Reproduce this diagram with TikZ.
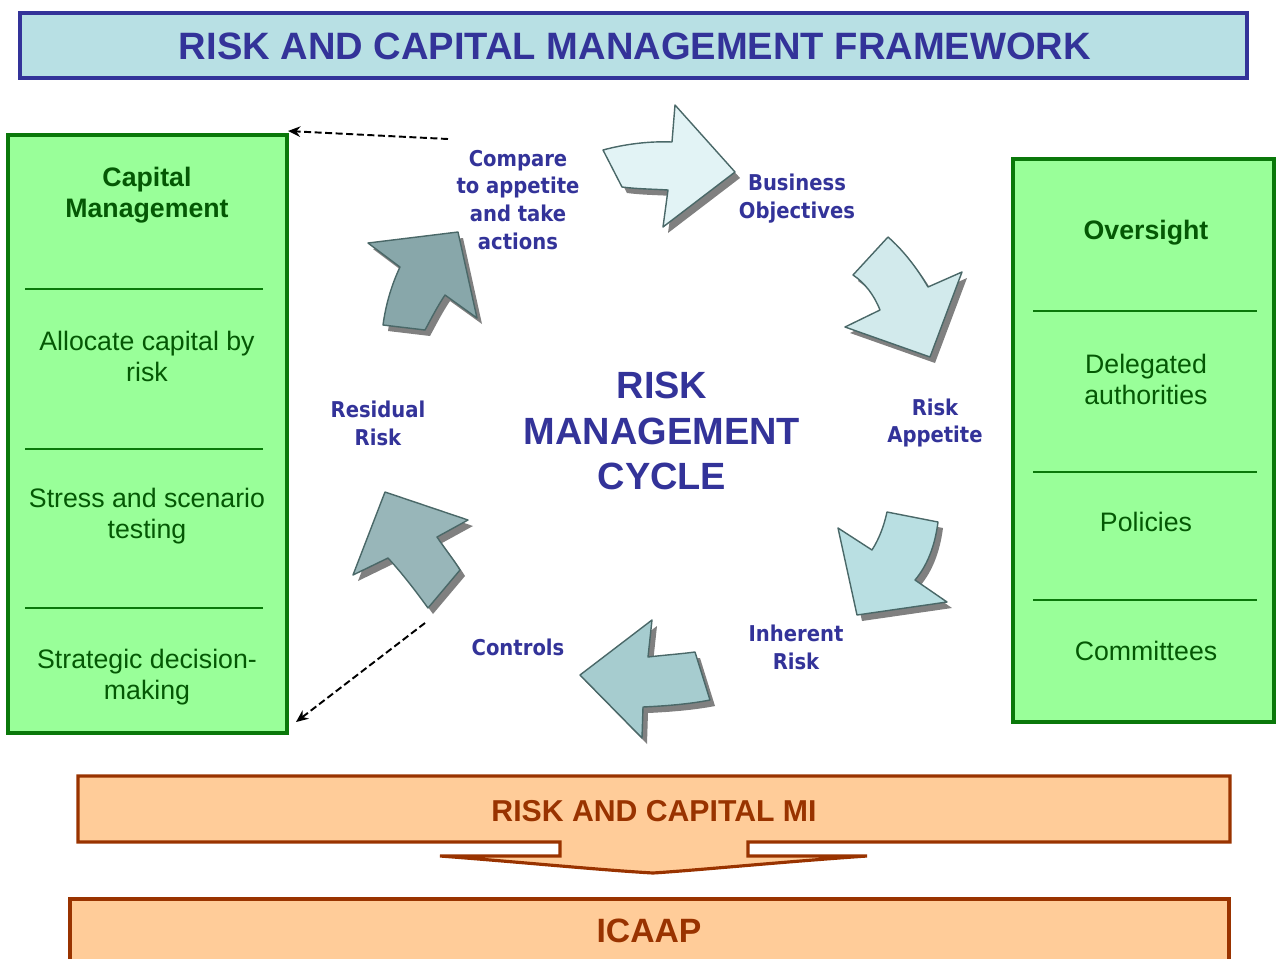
\documentclass[tikz,border=0pt]{standalone}
\usepackage{fontspec}
\setmainfont{Liberation Sans}
\newfontfamily\cyclefont{DejaVu Sans Condensed}
\usetikzlibrary{arrows.meta}

\definecolor{frameblue}{HTML}{333399}
\definecolor{titlefill}{HTML}{B8E0E4}
\definecolor{boxgreen}{HTML}{0A780A}
\definecolor{lightgreen}{HTML}{99FF99}
\definecolor{textgreen}{HTML}{045804}
\definecolor{peach}{HTML}{FFCC99}
\definecolor{rust}{HTML}{993300}
\definecolor{arrowedge}{HTML}{4A6868}
\definecolor{arrowa}{HTML}{E2F3F5}
\definecolor{arrowb}{HTML}{D2EAEC}
\definecolor{arrowc}{HTML}{B9DFE2}
\definecolor{arrowd}{HTML}{A6CCCF}
\definecolor{arrowe}{HTML}{98B6B9}
\definecolor{arrowf}{HTML}{88A7AA}

\tikzset{
  greenbox/.style={draw=boxgreen, line width=1.8pt, fill=lightgreen},
  divider/.style={draw=boxgreen, line width=1.1pt},
  boxhead/.style={text=textgreen, align=center, font=\bfseries\fontsize{15.2}{17.6}\selectfont},
  boxtext/.style={text=textgreen, align=center, font=\fontsize{15.2}{17.6}\selectfont},
  cyclelabel/.style={text=frameblue, align=center, font=\cyclefont\bfseries\fontsize{12.4}{15.9}\selectfont},
  cyclearrow/.style={draw=arrowedge, line width=0.8pt, line join=round},
  arrowshadow/.style={fill=black!50, shift={(5,6)}},
  link/.style={dash pattern=on 4pt off 2pt, line width=1.1pt, -{Stealth[length=7pt,width=6pt]}},
  peachbox/.style={draw=rust, line width=1.8pt, fill=peach, line join=miter},
}

% one block arrow of the cycle, with its shadow
\newcommand\cyclestep[2]{%
  \fill[arrowshadow] #2;
  \filldraw[cyclearrow, fill=#1] #2;
}

\begin{document}
\begin{tikzpicture}[x=0.02cm, y=-0.02cm]
  \useasboundingbox (0,0) rectangle (1276,958);

  % title bar
  \filldraw[draw=frameblue, line width=1.8pt, fill=titlefill] (20,13) rectangle (1247,78);
  \node[text=frameblue, font=\bfseries\fontsize{21.7}{26}\selectfont] (title) at (635,46) {RISK AND CAPITAL MANAGEMENT FRAMEWORK};

  % capital management
  \filldraw[greenbox] (8,135) rectangle (287,733);
  \coordinate (capcorner) at (288,131);
  \coordinate (capfoot) at (296,722);
  \draw[divider] (25,289) -- (263,289);
  \draw[divider] (25,449) -- (263,449);
  \draw[divider] (25,608) -- (263,608);
  \node[boxhead] (capital) at (147,195) {Capital\\Management};
  \node[boxtext] (allocate) at (147,356) {Allocate capital by\\risk};
  \node[boxtext] (stress) at (147,516) {Stress and scenario\\testing};
  \node[boxtext] (strategic) at (147,677) {Strategic decision-\\making};

  % oversight
  \filldraw[greenbox] (1013,159) rectangle (1274,722);
  \draw[divider] (1033,311) -- (1257,311);
  \draw[divider] (1033,472) -- (1257,472);
  \draw[divider] (1033,600) -- (1257,600);
  \node[boxhead] (oversight) at (1146,233) {Oversight};
  \node[boxtext] (delegated) at (1146,379) {Delegated\\authorities};
  \node[boxtext] (policies) at (1146,522) {Policies};
  \node[boxtext] (committees) at (1146,651) {Committees};

  % cycle arrows
  \cyclestep{arrowa}{(603,150) .. controls (625,144) and (650,141) .. (672,142) -- (675,105) -- (735,172) -- (663,227) -- (668,190) .. controls (652,189) and (637,189) .. (622,187) -- cycle}
  \cyclestep{arrowb}{(888,237) -- (853,275) .. controls (865,283) and (874,295) .. (880,310) -- (845,327) -- (930,357) -- (962,272) -- (928,287) .. controls (917,268) and (903,250) .. (888,237) -- cycle}
  \cyclestep{arrowc}{(887,512) -- (938,522) .. controls (935,546) and (927,566) .. (915,580) -- (947,602) -- (857,615) -- (838,528) -- (872,550) .. controls (879,539) and (884,526) .. (887,512) -- cycle}
  \cyclestep{arrowd}{(652,620) -- (648,657) .. controls (665,655) and (680,654) .. (695,652) -- (710,700) .. controls (690,704) and (665,706) .. (643,707) -- (642,738) -- (580,675) -- cycle}
  \cyclestep{arrowe}{(385,492) -- (468,520) -- (437,537) .. controls (445,549) and (454,560) .. (460,570) -- (428,608) .. controls (415,590) and (401,572) .. (388,558) -- (353,575) -- cycle}
  \cyclestep{arrowf}{(368,243) -- (458,232) -- (477,318) -- (445,295) .. controls (437,307) and (431,319) .. (425,330) -- (383,325) .. controls (386,303) and (392,284) .. (400,267) -- cycle}

  % cycle labels
  \node[cyclelabel] (compare) at (518,200) {Compare\\to appetite\\and take\\actions};
  \node[cyclelabel] (business) at (797,199) {Business\\Objectives};
  \node[cyclelabel] (appetite) at (935,423) {Risk\\Appetite};
  \node[cyclelabel] (inherent) at (796,647) {Inherent\\Risk};
  \node[cyclelabel] (controls) at (518,647) {Controls};
  \node[cyclelabel] (residual) at (378,423) {Residual\\Risk};
  \node[text=frameblue, align=center, font=\bfseries\fontsize{21.6}{26}\selectfont] (cycle) at (662,431) {RISK\\MANAGEMENT\\CYCLE};

  \coordinate (cmpstart) at (448,139);
  \coordinate (resstart) at (425,623);
  \draw[link] (cmpstart) -- (capcorner);
  \draw[link] (resstart) -- (capfoot);

  % MI and ICAAP
  \filldraw[peachbox] (78,776) -- (1230,776) -- (1230,842) -- (748,842) -- (748,856) -- (867,856)
    .. controls (780,862) and (700,870) .. (653,873) .. controls (600,870) and (520,862) .. (440,856)
    -- (560,856) -- (560,842) -- (78,842) -- cycle;
  \node[text=rust, font=\bfseries\fontsize{17.2}{20}\selectfont] (mi) at (654,811) {RISK AND CAPITAL MI};
  \filldraw[peachbox] (70,899) rectangle (1229,970);
  \node[text=rust, font=\bfseries\fontsize{19.2}{22}\selectfont] (icaap) at (649,931) {ICAAP};
\end{tikzpicture}
\end{document}
